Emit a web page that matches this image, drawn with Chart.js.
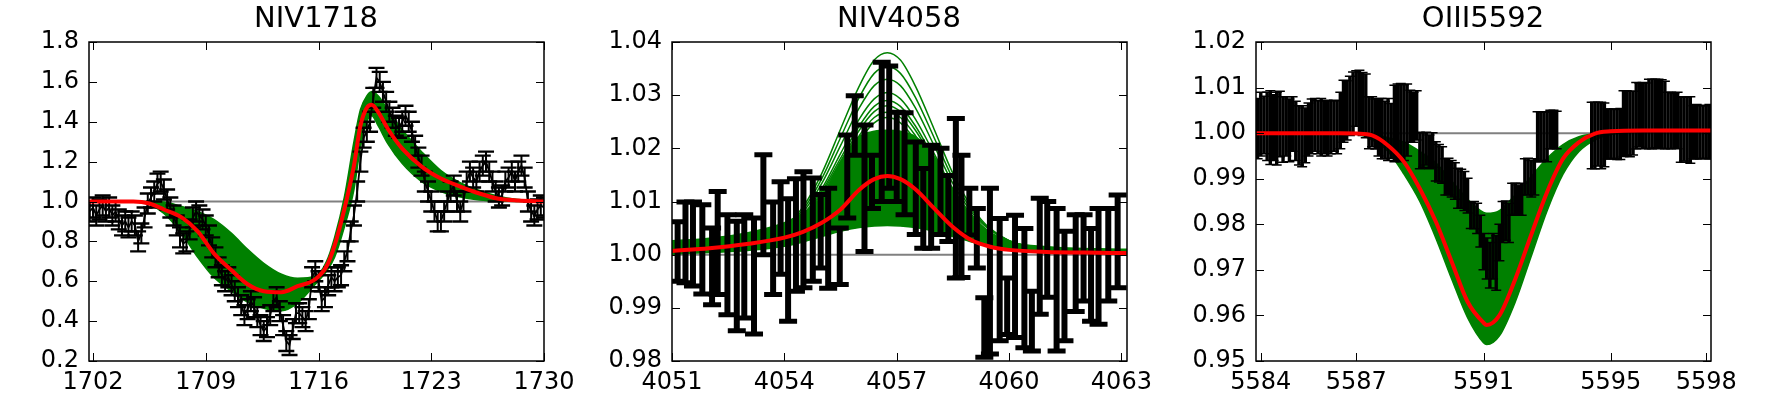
<!DOCTYPE html>
<html lang="es">
<head>
<meta charset="utf-8">
<title>Perfiles de lineas</title>
<script src="https://cdn.jsdelivr.net/npm/chart.js@4.4.1/dist/chart.umd.min.js"></script>
<style>
  html, body { margin: 0; padding: 0; background: #fff; }
  body { width: 1768px; height: 397px; overflow: hidden; position: relative; }
  canvas { position: absolute; top: 0; }
</style>
</head>
<body>
<canvas id="panel1" width="632" height="397" style="left:0px"></canvas>
<canvas id="panel2" width="632" height="397" style="left:583px"></canvas>
<canvas id="panel3" width="632" height="397" style="left:1167px"></canvas>
<script>
// ---------- titulos y ejes ----------
const titulos = ['NIV1718', 'NIV4058', 'OIII5592'];

const xTicks1 = [1702, 1709, 1716, 1723, 1730];
const xLabels1 = ['1702', '1709', '1716', '1723', '1730'];
const yTicks1 = [0.2, 0.4, 0.6, 0.8, 1.0, 1.2, 1.4, 1.6, 1.8];
const yLabels1 = ['0.2', '0.4', '0.6', '0.8', '1.0', '1.2', '1.4', '1.6', '1.8'];

const xTicks2 = [4051, 4054, 4057, 4060, 4063];
const xLabels2 = ['4051', '4054', '4057', '4060', '4063'];
const yTicks2 = [0.98, 0.99, 1.00, 1.01, 1.02, 1.03, 1.04];
const yLabels2 = ['0.98', '0.99', '1.00', '1.01', '1.02', '1.03', '1.04'];

const xTicks3 = [5584, 5587, 5591, 5595, 5598];
const xLabels3 = ['5584', '5587', '5591', '5595', '5598'];
const yTicks3 = [0.95, 0.96, 0.97, 0.98, 0.99, 1.00, 1.01, 1.02];
const yLabels3 = ['0.95', '0.96', '0.97', '0.98', '0.99', '1.00', '1.01', '1.02'];

// ---------- NIV1718: espectro observado ----------
const onda1 = [1701.8, 1702.0, 1702.2, 1702.4, 1702.6, 1702.8, 1703.0, 1703.2, 1703.4, 1703.6, 1703.8, 1704.0, 1704.2, 1704.4, 1704.6, 1704.8, 1705.0, 1705.2, 1705.4, 1705.6, 1705.8, 1706.0, 1706.2, 1706.4, 1706.6, 1706.8, 1707.0, 1707.2, 1707.4, 1707.6, 1707.8, 1708.0, 1708.2, 1708.4, 1708.6, 1708.8, 1709.0, 1709.2, 1709.4, 1709.6, 1709.8, 1710.0, 1710.2, 1710.4, 1710.6, 1710.8, 1711.0, 1711.2, 1711.4, 1711.6, 1711.8, 1712.0, 1712.2, 1712.4, 1712.6, 1712.8, 1713.0, 1713.2, 1713.4, 1713.6, 1713.8, 1714.0, 1714.2, 1714.4, 1714.6, 1714.8, 1715.0, 1715.2, 1715.4, 1715.6, 1715.8, 1716.0, 1716.2, 1716.4, 1716.6, 1716.8, 1717.0, 1717.2, 1717.4, 1717.6, 1717.8, 1718.0, 1718.2, 1718.4, 1718.6, 1718.8, 1719.0, 1719.2, 1719.4, 1719.6, 1719.8, 1720.0, 1720.2, 1720.4, 1720.6, 1720.8, 1721.0, 1721.2, 1721.4, 1721.6, 1721.8, 1722.0, 1722.2, 1722.4, 1722.6, 1722.8, 1723.0, 1723.2, 1723.4, 1723.6, 1723.8, 1724.0, 1724.2, 1724.4, 1724.6, 1724.8, 1725.0, 1725.2, 1725.4, 1725.6, 1725.8, 1726.0, 1726.2, 1726.4, 1726.6, 1726.8, 1727.0, 1727.2, 1727.4, 1727.6, 1727.8, 1728.0, 1728.2, 1728.4, 1728.6, 1728.8, 1729.0, 1729.2, 1729.4, 1729.6, 1729.8, 1730.0];
const flujo1 = [0.95, 0.97, 0.93, 0.96, 0.98, 0.95, 0.97, 0.93, 0.95, 0.91, 0.88, 0.90, 0.87, 0.90, 0.88, 0.80, 0.84, 0.92, 0.99, 1.02, 1.05, 1.09, 1.10, 1.06, 1.01, 0.97, 0.93, 0.88, 0.82, 0.79, 0.80, 0.86, 0.92, 0.95, 0.93, 0.91, 0.88, 0.83, 0.77, 0.72, 0.67, 0.63, 0.60, 0.62, 0.58, 0.55, 0.52, 0.48, 0.43, 0.46, 0.50, 0.47, 0.42, 0.38, 0.35, 0.37, 0.43, 0.50, 0.52, 0.45, 0.38, 0.30, 0.28, 0.36, 0.44, 0.44, 0.42, 0.40, 0.46, 0.62, 0.65, 0.60, 0.50, 0.52, 0.58, 0.62, 0.60, 0.62, 0.63, 0.70, 0.75, 0.85, 0.93, 1.05, 1.20, 1.32, 1.35, 1.40, 1.52, 1.62, 1.60, 1.55, 1.50, 1.45, 1.42, 1.38, 1.37, 1.40, 1.43, 1.40, 1.35, 1.28, 1.22, 1.18, 1.10, 1.05, 1.00, 0.95, 0.90, 0.90, 0.95, 1.00, 1.05, 1.08, 1.00, 0.95, 1.00, 1.10, 1.15, 1.12, 1.10, 1.15, 1.18, 1.20, 1.15, 1.10, 1.05, 1.02, 1.03, 1.10, 1.12, 1.15, 1.10, 1.15, 1.18, 1.12, 1.00, 0.95, 0.93, 0.96, 0.98, 0.97];
const error1 = 0.05;

// NIV1718: modelos (banda verde) y mejor ajuste (rojo)
const ondaModelo1 = [1701.75, 1704.5, 1705.5, 1706.4, 1707.5, 1708.5, 1709.5, 1710.6, 1711.6, 1712.6, 1713.7, 1714.7, 1715.8, 1716.5, 1717.0, 1717.6, 1718.2, 1718.6, 1719.0, 1719.3, 1719.7, 1720.3, 1721.2, 1722.4, 1723.6, 1724.8, 1726.0, 1727.1, 1728.4, 1730.0];
const bandaAlta1 = [1.0, 1.0, 1.0, 0.997, 0.975, 0.95, 0.91, 0.84, 0.76, 0.69, 0.635, 0.615, 0.625, 0.70, 0.82, 1.02, 1.30, 1.46, 1.53, 1.55, 1.53, 1.46, 1.36, 1.25, 1.155, 1.095, 1.055, 1.028, 1.01, 1.0];
const bandaBaja1 = [1.0, 0.998, 0.985, 0.94, 0.84, 0.72, 0.62, 0.55, 0.495, 0.465, 0.452, 0.49, 0.585, 0.65, 0.72, 0.87, 1.06, 1.27, 1.40, 1.43, 1.38, 1.29, 1.19, 1.10, 1.05, 1.022, 1.008, 1.002, 1.0, 1.0];
const ajuste1 = [1.0, 1.0, 0.99, 0.96, 0.92, 0.85, 0.74, 0.655, 0.585, 0.55, 0.545, 0.575, 0.61, 0.675, 0.78, 0.96, 1.18, 1.38, 1.47, 1.485, 1.45, 1.365, 1.265, 1.175, 1.115, 1.075, 1.04, 1.015, 1.005, 1.0];

// ---------- NIV4058 ----------
const onda2 = [4051.15, 4051.36, 4051.56, 4051.81, 4052.07, 4052.22, 4052.48, 4052.73, 4052.93, 4053.19, 4053.44, 4053.70, 4053.90, 4054.10, 4054.31, 4054.51, 4054.76, 4054.97, 4055.17, 4055.48, 4055.68, 4055.88, 4056.14, 4056.34, 4056.60, 4056.80, 4057.00, 4057.21, 4057.51, 4057.71, 4057.92, 4058.17, 4058.38, 4058.58, 4058.73, 4058.94, 4059.14, 4059.34, 4059.49, 4059.75, 4059.95, 4060.16, 4060.41, 4060.61, 4060.82, 4061.02, 4061.27, 4061.48, 4061.78, 4061.99, 4062.19, 4062.39, 4062.65, 4062.90];
const flujo2 = [1.0006, 1.0023, 1.0020, 1.0010, 0.9978, 1.0022, 0.9981, 0.9960, 0.9978, 0.9960, 1.0094, 1.0012, 1.0050, 0.9990, 1.0037, 1.0047, 1.0047, 1.0044, 1.0031, 0.9997, 1.0147, 1.0243, 1.0125, 1.0137, 1.0231, 1.0240, 1.0184, 1.0171, 1.0125, 1.0087, 1.0109, 1.0119, 1.0087, 1.0106, 1.0072, 1.0081, 1.0031, 0.9863, 0.9969, 0.9953, 0.9903, 0.9959, 0.9937, 0.9875, 0.9997, 1.0010, 0.9953, 0.9941, 0.9984, 0.9994, 0.9962, 0.9978, 1.0000, 1.0025];
const error2 = [0.0056, 0.0076, 0.0079, 0.0084, 0.0072, 0.0097, 0.0094, 0.0103, 0.0097, 0.0109, 0.0094, 0.0087, 0.0087, 0.0115, 0.0106, 0.0109, 0.0097, 0.0069, 0.0094, 0.0053, 0.0078, 0.0056, 0.0119, 0.0050, 0.0131, 0.0115, 0.0084, 0.0096, 0.0087, 0.0075, 0.0097, 0.0081, 0.0062, 0.0150, 0.0115, 0.0044, 0.0056, 0.0056, 0.0156, 0.0115, 0.0053, 0.0115, 0.0112, 0.0056, 0.0109, 0.0090, 0.0134, 0.0103, 0.0091, 0.0081, 0.0087, 0.0109, 0.0087, 0.0087];

const ondaBanda2 = [4051, 4052, 4053, 4054, 4054.5, 4055, 4055.5, 4056, 4056.4, 4056.75, 4057.1, 4057.5, 4058, 4058.5, 4059, 4059.5, 4060, 4061, 4063.15];
const bandaAlta2 = [1.0026, 1.0031, 1.0041, 1.0060, 1.0078, 1.0108, 1.0175, 1.0222, 1.0232, 1.0234, 1.0232, 1.0222, 1.0185, 1.0120, 1.0068, 1.0038, 1.0024, 1.0015, 1.0010];
const bandaBaja2 = [1.0001, 1.0004, 1.0008, 1.0016, 1.0024, 1.0034, 1.0044, 1.0051, 1.0054, 1.0055, 1.0054, 1.0051, 1.0044, 1.0034, 1.0024, 1.0016, 1.0010, 1.0005, 1.0002];

// curvas de modelo sueltas por encima de la banda
const ondaCurvas2 = [4051, 4053, 4054, 4054.5, 4055, 4055.5, 4056, 4056.4, 4056.75, 4057.1, 4057.5, 4058, 4058.5, 4059, 4059.5, 4060.5, 4063.15];
const curvas2 = [
  [1.0018, 1.0029, 1.0054, 1.0090, 1.0153, 1.0236, 1.0317, 1.0366, 1.0380, 1.0366, 1.0317, 1.0236, 1.0153, 1.0090, 1.0049, 1.0016, 1.0008],
  [1.0018, 1.0029, 1.0052, 1.0085, 1.0143, 1.0220, 1.0296, 1.0341, 1.0354, 1.0341, 1.0296, 1.0220, 1.0143, 1.0085, 1.0047, 1.0016, 1.0008],
  [1.0018, 1.0029, 1.0049, 1.0080, 1.0134, 1.0205, 1.0276, 1.0318, 1.0330, 1.0318, 1.0276, 1.0205, 1.0134, 1.0080, 1.0046, 1.0016, 1.0008],
  [1.0018, 1.0028, 1.0047, 1.0075, 1.0124, 1.0190, 1.0255, 1.0293, 1.0305, 1.0293, 1.0255, 1.0190, 1.0124, 1.0075, 1.0042, 1.0016, 1.0008],
  [1.0018, 1.0028, 1.0046, 1.0072, 1.0119, 1.0181, 1.0242, 1.0279, 1.0290, 1.0279, 1.0242, 1.0181, 1.0119, 1.0072, 1.0041, 1.0016, 1.0008],
  [1.0018, 1.0028, 1.0045, 1.0070, 1.0115, 1.0175, 1.0234, 1.0269, 1.0280, 1.0269, 1.0234, 1.0175, 1.0115, 1.0070, 1.0040, 1.0016, 1.0008],
  [1.0018, 1.0028, 1.0044, 1.0068, 1.0111, 1.0168, 1.0224, 1.0258, 1.0268, 1.0258, 1.0224, 1.0168, 1.0111, 1.0068, 1.0039, 1.0015, 1.0008],
  [1.0018, 1.0028, 1.0043, 1.0066, 1.0107, 1.0162, 1.0215, 1.0248, 1.0258, 1.0248, 1.0215, 1.0162, 1.0107, 1.0066, 1.0038, 1.0015, 1.0008]
];
const ondaAjuste2 = [4051, 4052, 4053, 4054, 4054.5, 4055, 4055.5, 4056, 4056.4, 4056.75, 4057.1, 4057.5, 4058, 4058.5, 4059, 4059.5, 4060, 4061, 4062, 4063.15];
const ajuste2 = [1.0007, 1.0012, 1.0020, 1.0032, 1.0043, 1.0060, 1.0085, 1.0122, 1.0142, 1.0148, 1.0142, 1.0123, 1.0087, 1.0052, 1.0027, 1.0015, 1.0009, 1.0005, 1.0004, 1.0003];

// ---------- OIII5592 ----------
const onda3 = [5583.9, 5584.0, 5584.1, 5584.2, 5584.3, 5584.4, 5584.5, 5584.6, 5584.7, 5584.8, 5584.9, 5585.0, 5585.1, 5585.2, 5585.3, 5585.4, 5585.5, 5585.6, 5585.7, 5585.8, 5585.9, 5586.0, 5586.1, 5586.2, 5586.3, 5586.4, 5586.5, 5586.6, 5586.7, 5586.8, 5586.9, 5587.0, 5587.1, 5587.2, 5587.3, 5587.4, 5587.5, 5587.6, 5587.7, 5587.8, 5587.9, 5588.0, 5588.1, 5588.2, 5588.3, 5588.4, 5588.5, 5588.6, 5588.7, 5588.8, 5588.9, 5589.0, 5589.1, 5589.2, 5589.3, 5589.4, 5589.5, 5589.6, 5589.7, 5589.8, 5589.9, 5590.0, 5590.1, 5590.2, 5590.3, 5590.4, 5590.5, 5590.6, 5590.7, 5590.8, 5590.9, 5591.0, 5591.1, 5591.2, 5591.3, 5591.4, 5591.5, 5591.6, 5591.7, 5591.8, 5591.9, 5592.0, 5592.1, 5592.2, 5592.3, 5592.4, 5592.5, 5592.6, 5592.7, 5592.8, 5592.9, 5593.0, 5593.1, 5593.2, 5593.3, 5594.4, 5594.5, 5594.6, 5594.7, 5594.8, 5594.9, 5595.0, 5595.1, 5595.2, 5595.3, 5595.4, 5595.5, 5595.6, 5595.7, 5595.8, 5595.9, 5596.0, 5596.1, 5596.2, 5596.3, 5596.4, 5596.5, 5596.6, 5596.7, 5596.8, 5596.9, 5597.0, 5597.1, 5597.2, 5597.3, 5597.4, 5597.5, 5597.6, 5597.7, 5597.8, 5597.9, 5598.0, 5598.1];
const flujo3 = [1.0010, 1.0020, 1.0018, 1.0015, 1.0012, 1.0012, 1.0010, 1.0020, 1.0008, 1.0015, 1.0006, 1.0020, 1.0005, 0.9995, 0.9993, 0.9995, 1.0008, 1.0015, 1.0018, 1.0013, 1.0013, 1.0013, 1.0011, 1.0013, 1.0016, 1.0013, 1.0028, 1.0048, 1.0050, 1.0060, 1.0067, 1.0076, 1.0069, 1.0064, 1.0060, 1.0023, 1.0025, 1.0020, 1.0013, 1.0010, 1.0007, 1.0008, 1.0005, 1.0021, 1.0024, 1.0023, 1.0023, 1.0029, 1.0037, 1.0035, 1.0039, 0.9962, 0.9963, 0.9966, 0.9959, 0.9963, 0.9938, 0.9934, 0.9930, 0.9904, 0.9905, 0.9900, 0.9895, 0.9879, 0.9878, 0.9873, 0.9863, 0.9820, 0.9820, 0.9813, 0.9785, 0.9740, 0.9725, 0.9710, 0.9730, 0.9715, 0.9760, 0.9805, 0.9808, 0.9803, 0.9855, 0.9856, 0.9853, 0.9855, 0.9904, 0.9905, 0.9900, 0.9904, 0.9992, 0.9992, 0.9993, 0.9992, 1.0008, 1.0008, 1.0007, 0.9995, 0.9995, 0.9998, 0.9995, 0.9996, 0.9998, 0.9998, 0.9999, 0.9997, 0.9998, 1.0021, 1.0022, 1.0020, 1.0022, 1.0038, 1.0040, 1.0039, 1.0038, 1.0042, 1.0042, 1.0043, 1.0042, 1.0042, 1.0040, 1.0028, 1.0028, 1.0027, 1.0028, 1.0008, 1.0009, 1.0008, 1.0007, 1.0002, 1.0003, 1.0002, 1.0003, 1.0002, 1.0003];
const error3 = [0.0066, 0.0070, 0.0063, 0.0075, 0.0081, 0.0072, 0.0080, 0.0072, 0.0072, 0.0065, 0.0069, 0.0060, 0.0065, 0.0065, 0.0067, 0.0060, 0.0058, 0.0060, 0.0058, 0.0058, 0.0063, 0.0058, 0.0061, 0.0058, 0.0056, 0.0058, 0.0062, 0.0068, 0.0065, 0.0065, 0.0067, 0.0061, 0.0069, 0.0069, 0.0070, 0.0057, 0.0055, 0.0055, 0.0063, 0.0066, 0.0063, 0.0068, 0.0060, 0.0084, 0.0084, 0.0086, 0.0083, 0.0079, 0.0057, 0.0055, 0.0054, 0.0040, 0.0038, 0.0036, 0.0037, 0.0038, 0.0043, 0.0041, 0.0040, 0.0040, 0.0040, 0.0040, 0.0040, 0.0044, 0.0043, 0.0043, 0.0038, 0.0029, 0.0030, 0.0033, 0.0035, 0.0040, 0.0045, 0.0050, 0.0050, 0.0060, 0.0040, 0.0045, 0.0043, 0.0043, 0.0035, 0.0034, 0.0033, 0.0035, 0.0040, 0.0040, 0.0040, 0.0040, 0.0055, 0.0055, 0.0053, 0.0055, 0.0042, 0.0042, 0.0041, 0.0073, 0.0073, 0.0070, 0.0073, 0.0070, 0.0055, 0.0055, 0.0054, 0.0055, 0.0056, 0.0072, 0.0071, 0.0072, 0.0070, 0.0073, 0.0070, 0.0072, 0.0072, 0.0076, 0.0076, 0.0075, 0.0076, 0.0075, 0.0074, 0.0062, 0.0062, 0.0060, 0.0062, 0.0072, 0.0070, 0.0072, 0.0073, 0.0058, 0.0060, 0.0058, 0.0058, 0.0058, 0.0060];

const ondaModelo3 = [5583.85, 5586.5, 5587, 5587.5, 5588, 5588.5, 5589, 5589.5, 5590, 5590.5, 5591, 5591.1, 5591.5, 5592, 5592.5, 5593, 5593.5, 5594, 5594.5, 5595, 5596, 5598.15];
const bandaAlta3 = [1.0, 1.0, 1.0, 0.9998, 0.999, 0.998, 0.996, 0.9935, 0.9895, 0.9855, 0.9826, 0.9824, 0.983, 0.9865, 0.9905, 0.9945, 0.9975, 0.9992, 0.9999, 1.0003, 1.0004, 1.0004];
const bandaBaja3 = [1.0, 1.0, 0.9998, 0.9985, 0.996, 0.991, 0.985, 0.977, 0.968, 0.9595, 0.954, 0.9536, 0.9555, 0.963, 0.973, 0.983, 0.991, 0.996, 0.9985, 0.9997, 1.0003, 1.0004];
const ajuste3 = [1.0, 1.0, 0.9999, 0.9995, 0.9973, 0.9937, 0.9878, 0.9806, 0.9718, 0.963, 0.9584, 0.9579, 0.960, 0.968, 0.9777, 0.9871, 0.9944, 0.998, 0.9999, 1.0004, 1.0006, 1.0006];

// ---------- estilos ----------
Chart.defaults.font.family = "'DejaVu Sans', sans-serif";
Chart.defaults.color = '#000';
const VERDE = '#008000';
const ROJO = '#ff0000';
const GRIS = '#808080';

const puntos = (xs, ys) => xs.map((x, i) => ({ x, y: ys[i] }));

// barras de error dibujadas despues del dataset que las lleva
const barrasError = {
  id: 'barrasError',
  afterDatasetDraw(chart, args) {
    const ds = chart.data.datasets[args.index];
    if (!ds.errores) return;
    const { ctx, chartArea: a, scales: { x, y } } = chart;
    const st = ds.estiloBarra;
    ctx.save();
    ctx.beginPath();
    ctx.rect(a.left, a.top, a.width, a.height);
    ctx.clip();
    ctx.strokeStyle = '#000';
    ds.data.forEach((p, i) => {
      const e = Array.isArray(ds.errores) ? ds.errores[i] : ds.errores;
      const px = x.getPixelForValue(p.x);
      const arriba = y.getPixelForValue(p.y + e);
      const abajo = y.getPixelForValue(p.y - e);
      ctx.lineWidth = st.barra;
      ctx.beginPath();
      ctx.moveTo(px, arriba);
      ctx.lineTo(px, abajo);
      ctx.stroke();
      ctx.lineWidth = st.tapa;
      ctx.beginPath();
      ctx.moveTo(px - st.ancho, arriba); ctx.lineTo(px + st.ancho, arriba);
      ctx.moveTo(px - st.ancho, abajo); ctx.lineTo(px + st.ancho, abajo);
      ctx.stroke();
    });
    ctx.restore();
  }
};

// marco negro y marcas hacia dentro en los cuatro lados
const marco = {
  id: 'marco',
  afterDraw(chart) {
    const { ctx, chartArea: a, scales: { x, y } } = chart;
    const largo = 8;
    ctx.save();
    ctx.strokeStyle = '#000';
    ctx.lineWidth = 1;
    ctx.beginPath();
    x.ticks.forEach(t => {
      const px = Math.round(x.getPixelForValue(t.value)) + 0.5;
      ctx.moveTo(px, a.bottom); ctx.lineTo(px, a.bottom - largo);
      ctx.moveTo(px, a.top); ctx.lineTo(px, a.top + largo);
    });
    y.ticks.forEach(t => {
      const py = Math.round(y.getPixelForValue(t.value)) + 0.5;
      ctx.moveTo(a.left, py); ctx.lineTo(a.left + largo, py);
      ctx.moveTo(a.right, py); ctx.lineTo(a.right - largo, py);
    });
    ctx.stroke();
    ctx.lineWidth = 1.5;
    ctx.strokeRect(a.left, a.top, a.width, a.height);
    ctx.restore();
  }
};

const lineaUno = (xmin, xmax) => ({
  data: [{ x: xmin, y: 1 }, { x: xmax, y: 1 }],
  borderColor: GRIS, borderWidth: 2, pointRadius: 0, order: 9
});

const banda = (xs, alta, baja) => [
  { data: puntos(xs, alta), borderColor: VERDE, backgroundColor: VERDE, borderWidth: 1.5, pointRadius: 0,
    cubicInterpolationMode: 'monotone', fill: '+1', order: 6 },
  { data: puntos(xs, baja), borderColor: VERDE, borderWidth: 1.5, pointRadius: 0,
    cubicInterpolationMode: 'monotone', fill: false, order: 6 }
];

const curvaRoja = (xs, ys) => ({
  data: puntos(xs, ys), borderColor: ROJO, borderWidth: 4, pointRadius: 0,
  cubicInterpolationMode: 'monotone', fill: false, order: 1
});

const datosObservados = (xs, ys, err, conLinea, estilo) => ({
  data: puntos(xs, ys), borderColor: '#000', borderWidth: 1.8, pointRadius: 0,
  showLine: conLinea, fill: false, order: 3, errores: err, estiloBarra: estilo
});

const crearPanel = (id, cfg) => new Chart(document.getElementById(id), {
  type: 'line',
  data: { datasets: cfg.series },
  options: {
    responsive: false,
    animation: false,
    events: [],
    layout: { padding: 0 },
    plugins: {
      legend: { display: false },
      tooltip: { enabled: false },
      title: {
        display: true, text: cfg.titulo, color: '#000',
        font: { size: 29, weight: 'normal' },
        padding: { top: 2, bottom: 5.2 }
      }
    },
    scales: {
      x: {
        type: 'linear', min: cfg.xmin, max: cfg.xmax,
        afterBuildTicks: (eje) => { eje.ticks = cfg.xticks.map(v => ({ value: v })); },
        afterFit: (eje) => { eje.height = 36; },
        grid: { display: false, drawTicks: false },
        border: { display: false },
        ticks: { color: '#000', font: { size: 24 }, padding: 7, maxRotation: 0, autoSkip: false,
          callback: (v, i) => cfg.xlabels[i] }
      },
      y: {
        type: 'linear', min: cfg.ymin, max: cfg.ymax,
        afterBuildTicks: (eje) => { eje.ticks = cfg.yticks.map(v => ({ value: v })); },
        afterFit: (eje) => { eje.width = 89; },
        grid: { display: false, drawTicks: false },
        border: { display: false },
        ticks: { color: '#000', font: { size: 24 }, padding: 10, autoSkip: false,
          callback: (v, i) => cfg.ylabels[i] }
      },
      // eje vacio a la derecha para que el titulo quede centrado sobre el area
      derecha: {
        type: 'linear', position: 'right', min: 0, max: 1,
        afterFit: (eje) => { eje.width = 88; },
        grid: { display: false, drawTicks: false },
        border: { display: false },
        ticks: { display: false }
      }
    }
  },
  plugins: [barrasError, marco]
});

// panel 1
crearPanel('panel1', {
  titulo: titulos[0], xmin: 1701.75, xmax: 1730, ymin: 0.2, ymax: 1.8,
  xticks: xTicks1, xlabels: xLabels1, yticks: yTicks1, ylabels: yLabels1,
  series: [
    ...banda(ondaModelo1, bandaAlta1, bandaBaja1),
    datosObservados(onda1, flujo1, error1, true, { barra: 2, tapa: 2.4, ancho: 8 }),
    lineaUno(1701.75, 1730),
    curvaRoja(ondaModelo1, ajuste1)
  ]
});

// panel 2
crearPanel('panel2', {
  titulo: titulos[1], xmin: 4051, xmax: 4063.15, ymin: 0.98, ymax: 1.04,
  xticks: xTicks2, xlabels: xLabels2, yticks: yTicks2, ylabels: yLabels2,
  series: [
    ...banda(ondaBanda2, bandaAlta2, bandaBaja2),
    ...curvas2.map(c => ({
      data: puntos(ondaCurvas2, c), borderColor: VERDE, borderWidth: 1.5, pointRadius: 0,
      cubicInterpolationMode: 'monotone', fill: false, order: 5
    })),
    datosObservados(onda2, flujo2, error2, false, { barra: 6, tapa: 5, ancho: 9 }),
    lineaUno(4051, 4063.15),
    curvaRoja(ondaAjuste2, ajuste2)
  ]
});

// panel 3
crearPanel('panel3', {
  titulo: titulos[2], xmin: 5583.85, xmax: 5598.15, ymin: 0.95, ymax: 1.02,
  xticks: xTicks3, xlabels: xLabels3, yticks: yTicks3, ylabels: yLabels3,
  series: [
    ...banda(ondaModelo3, bandaAlta3, bandaBaja3),
    datosObservados(onda3, flujo3, error3, false, { barra: 3.4, tapa: 1.5, ancho: 5 }),
    lineaUno(5583.85, 5598.15),
    curvaRoja(ondaModelo3, ajuste3)
  ]
});
</script>
</body>
</html>
